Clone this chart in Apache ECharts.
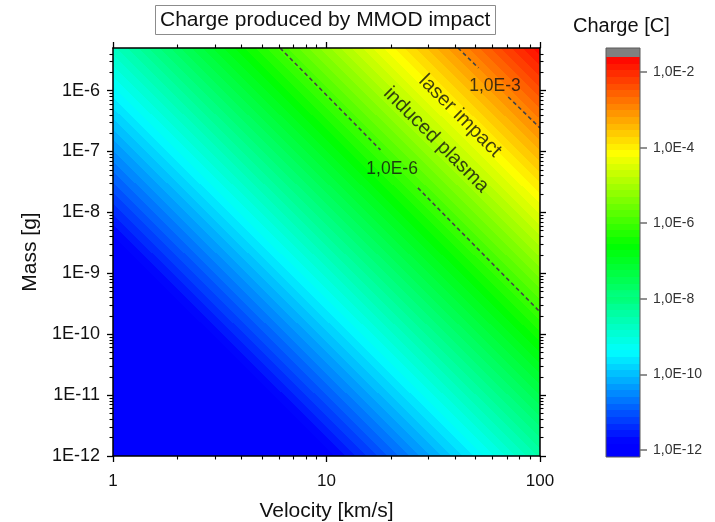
<!DOCTYPE html>
<html>
<head>
<meta charset="utf-8">
<script src="https://cdn.jsdelivr.net/npm/echarts@6/dist/echarts.min.js"></script>
<style>
html,body{margin:0;padding:0;background:#fff;}
#chart{width:715px;height:522px;}
</style>
</head>
<body>
<div id="chart"></div>
<script>
// ---------------- data ----------------
const velocityRange = [1, 100];                 // km/s (x)
const massRange = [1e-12, 5e-6];                // g (y)
const velocityTicks = [1, 10, 100];
const velocityTickLabels = ['1', '10', '100'];
const massTicks = [1e-12, 1e-11, 1e-10, 1e-9, 1e-8, 1e-7, 1e-6];
const massTickLabels = ['1E-12', '1E-11', '1E-10', '1E-9', '1E-8', '1E-7', '1E-6'];
const minorMultipliers = [2, 3, 4, 5, 6, 7, 8, 9];

const chargeTicks = [1e-12, 1e-10, 1e-8, 1e-6, 1e-4, 1e-2];
const chargeTickLabels = ['1,0E-12', '1,0E-10', '1,0E-8', '1,0E-6', '1,0E-4', '1,0E-2'];
const chargeScaleRange = [6.5e-13, 2.5e-2];     // span of the coloured part of the colour bar
const chargeOverflow = 4.35e-2;                 // top of the grey "above range" box
const bandCount = 60;                           // contour fill levels
const paletteCharge = [1.6e-12, 4.0e-10, 2.5e-7, 7.1e-5, 2.5e-2];
const paletteColors = ['#0000ff', '#00ffff', '#00ff00', '#ffff00', '#ff0000'];
const overflowColor = '#808080';

// contour lines [velocity, mass]; '-' marks the gap behind the label
const isoLevels = [1e-6, 1e-3];
const isoLabels = ['1,0E-6', '1,0E-3'];
const isoLine6 = [[6.06, 5e-6], [17.9, 1.06e-7], ['-', '-'], [26.8, 2.52e-8], [100, 2.32e-10]];
const isoLine3 = [[41.3, 5e-6], [51.5, 2.35e-6], ['-', '-'], [71.0, 7.85e-7], [100, 2.43e-7]];
const isoLabelPos = [[20.3, 5.2e-8], [61.5, 1.19e-6]];
const noteTexts = ['laser impact', 'induced plasma'];
const notePos = [[42.2, 3.83e-7], [32.6, 1.55e-7]];

// ---------------- helpers ----------------
const L = Math.log10;
const FONT = '"Liberation Sans", Arial, Helvetica, sans-serif';
const toXY = p => (p[0] === '-' ? ['-', '-'] : [L(p[0]), L(p[1])]);

function hexToRgb(h) { return [parseInt(h.slice(1, 3), 16), parseInt(h.slice(3, 5), 16), parseInt(h.slice(5, 7), 16)]; }
function paletteAt(l) {
  const ks = paletteCharge.map(L), cs = paletteColors.map(hexToRgb);
  if (l <= ks[0]) return cs[0];
  for (let i = 0; i < ks.length - 1; i++) {
    if (l <= ks[i + 1]) {
      const t = (l - ks[i]) / (ks[i + 1] - ks[i]);
      return cs[i].map((c, j) => Math.round(c + (cs[i + 1][j] - c) * t));
    }
  }
  return cs[cs.length - 1];
}
const cMin = L(chargeScaleRange[0]), cMax = L(chargeScaleRange[1]), cTop = L(chargeOverflow);
const bands = [];
(function () {
  const step = (cMax - cMin) / bandCount;
  for (let i = 0; i < bandCount; i++) {
    const a = cMin + i * step, b = a + step;
    const c = paletteAt(a + step / 2);
    bands.push({ a, b, color: 'rgb(' + c.join(',') + ')' });
  }
})();
function buildStops(lS, lE) {
  const clamp = v => Math.max(0, Math.min(1, v));
  const t = l => clamp((l - lS) / (lE - lS));
  const st = [{ offset: 0, color: bands[0].color }];
  bands.forEach(b => { st.push({ offset: t(b.a), color: b.color }); st.push({ offset: t(b.b), color: b.color }); });
  st.push({ offset: t(cMax), color: overflowColor });
  st.push({ offset: 1, color: overflowColor });
  return st;
}
function fmtFrom(ticks, labels) {
  return v => { for (let i = 0; i < ticks.length; i++) if (Math.abs(L(ticks[i]) - v) < 1e-6) return labels[i]; return ''; };
}
function minorsOf(majors, range) {
  const out = [];
  majors.forEach(m => minorMultipliers.forEach(k => { const v = m * k; if (v < range[1] * 0.999) out.push(L(v)); }));
  return out;
}
const xMinors = minorsOf([1, 10], velocityRange);
const yMinors = minorsOf(massTicks, massRange);

// ---------------- axes ----------------
const xMin = L(velocityRange[0]), xMax = L(velocityRange[1]);
const yMin = L(massRange[0]), yMax = L(massRange[1]);
const lineBlack = { color: '#000', width: 1.5 };
function axisBase(extra) {
  return Object.assign({
    type: 'value', gridIndex: 0, z: 10, silent: true,
    splitLine: { show: false },
    axisLine: { show: false, onZero: false, lineStyle: lineBlack },
    axisLabel: { show: false },
    axisTick: { show: false }
  }, extra);
}
const xAxes = [
  axisBase({
    min: xMin, max: xMax, position: 'bottom',
    axisLine: { show: true, onZero: false, lineStyle: lineBlack },
    axisTick: { show: true, customValues: velocityTicks.map(L), length: 6, lineStyle: { color: '#000', width: 1.3 } },
    axisLabel: { show: true, customValues: velocityTicks.map(L), formatter: fmtFrom(velocityTicks, velocityTickLabels),
      fontSize: 17, margin: 17, color: '#111', fontFamily: FONT },
    name: 'Velocity [km/s]', nameLocation: 'middle', nameGap: 45,
    nameTextStyle: { fontSize: 21, color: '#111', fontFamily: FONT }
  }),
  axisBase({ min: xMin, max: xMax, position: 'bottom',
    axisTick: { show: true, customValues: xMinors, length: 3.5, lineStyle: { color: '#000', width: 1.1 } } }),
  axisBase({ min: xMin, max: xMax, position: 'top',
    axisLine: { show: true, onZero: false, lineStyle: lineBlack },
    axisTick: { show: true, customValues: velocityTicks.map(L), length: 6, lineStyle: { color: '#000', width: 1.3 } } }),
  axisBase({ min: xMin, max: xMax, position: 'top',
    axisTick: { show: true, customValues: xMinors, length: 3.5, lineStyle: { color: '#000', width: 1.1 } } }),
  { type: 'value', gridIndex: 1, min: 0, max: 1, show: false }
];
const yAxes = [
  axisBase({
    min: yMin, max: yMax, position: 'left',
    axisLine: { show: true, onZero: false, lineStyle: lineBlack },
    axisTick: { show: true, customValues: massTicks.map(L), length: 6, lineStyle: { color: '#000', width: 1.3 } },
    axisLabel: { show: true, customValues: massTicks.map(L), formatter: fmtFrom(massTicks, massTickLabels),
      fontSize: 18, margin: 13, color: '#111', fontFamily: FONT },
    name: 'Mass [g]', nameLocation: 'middle', nameGap: 72, nameRotate: 90,
    nameTextStyle: { fontSize: 21, color: '#111', fontFamily: FONT }
  }),
  axisBase({ min: yMin, max: yMax, position: 'left',
    axisTick: { show: true, customValues: yMinors, length: 3.5, lineStyle: { color: '#000', width: 1.1 } } }),
  axisBase({ min: yMin, max: yMax, position: 'right',
    axisLine: { show: true, onZero: false, lineStyle: lineBlack },
    axisTick: { show: true, customValues: massTicks.map(L), length: 6, lineStyle: { color: '#000', width: 1.3 } } }),
  axisBase({ min: yMin, max: yMax, position: 'right',
    axisTick: { show: true, customValues: yMinors, length: 3.5, lineStyle: { color: '#000', width: 1.1 } } }),
  {
    type: 'value', gridIndex: 1, min: cMin, max: cTop, position: 'right', z: 10, silent: true,
    splitLine: { show: false },
    axisLine: { show: false, onZero: false },
    axisTick: { show: true, customValues: chargeTicks.map(L), length: 7, lineStyle: { color: '#6e6e6e', width: 1.5 } },
    axisLabel: { show: true, customValues: chargeTicks.map(L), formatter: fmtFrom(chargeTicks, chargeTickLabels),
      fontSize: 14, margin: 13, color: '#333', fontFamily: FONT }
  }
];

// ---------------- series ----------------
const fillSeries = {
  type: 'custom', xAxisIndex: 0, yAxisIndex: 0, z: 1, silent: true, clip: true,
  data: [[xMin, yMin, xMax, yMax]],
  renderItem: function (params, api) {
    const bl = api.coord([api.value(0), api.value(1)]);
    const tr = api.coord([api.value(2), api.value(3)]);
    const px = p => api.coord(toXY(p));
    const a1 = px(isoLine6[0]), b1 = px(isoLine6[isoLine6.length - 1]);
    const a2 = px(isoLine3[0]), b2 = px(isoLine3[isoLine3.length - 1]);
    const unit = (a, b) => { const dx = b[0] - a[0], dy = b[1] - a[1], n = Math.hypot(dx, dy); return [dx / n, dy / n]; };
    const u1 = unit(a1, b1), u2 = unit(a2, b2);
    let d = [u1[0] + u2[0], u1[1] + u2[1]];
    const dn = Math.hypot(d[0], d[1]); d = [d[0] / dn, d[1] / dn];
    let n = [d[1], -d[0]];
    const m1 = [(a1[0] + b1[0]) / 2, (a1[1] + b1[1]) / 2];
    const m2 = [(a2[0] + b2[0]) / 2, (a2[1] + b2[1]) / 2];
    let dist = (m2[0] - m1[0]) * n[0] + (m2[1] - m1[1]) * n[1];
    if (dist < 0) { n = [-n[0], -n[1]]; dist = -dist; }
    const l0 = L(isoLevels[0]);
    const pxPerDec = dist / (L(isoLevels[1]) - l0);
    const lS = -18, lE = -0.5;
    const S = [m1[0] + n[0] * (lS - l0) * pxPerDec, m1[1] + n[1] * (lS - l0) * pxPerDec];
    const E = [m1[0] + n[0] * (lE - l0) * pxPerDec, m1[1] + n[1] * (lE - l0) * pxPerDec];
    const grad = new echarts.graphic.LinearGradient(S[0], S[1], E[0], E[1], buildStops(lS, lE), true);
    return { type: 'rect', shape: { x: bl[0], y: tr[1], width: tr[0] - bl[0], height: bl[1] - tr[1] }, style: { fill: grad } };
  }
};
function isoSeries(pts) {
  return {
    type: 'line', xAxisIndex: 0, yAxisIndex: 0, z: 3, silent: true, symbol: 'none', connectNulls: false,
    data: pts.map(toXY),
    lineStyle: { color: '#454545', width: 1.6, type: [4, 3] }
  };
}
const isoLabelSeries = {
  type: 'scatter', xAxisIndex: 0, yAxisIndex: 0, z: 4, silent: true, symbolSize: 2,
  itemStyle: { color: 'rgba(0,0,0,0)' },
  data: isoLabelPos.map(toXY),
  label: { show: true, position: 'inside', formatter: p => isoLabels[p.dataIndex],
    fontSize: 17.5, color: '#111', fontFamily: FONT }
};
const noteSeries = {
  type: 'scatter', xAxisIndex: 0, yAxisIndex: 0, z: 4, silent: true, symbolSize: 2,
  itemStyle: { color: 'rgba(0,0,0,0)' },
  data: notePos.map(toXY),
  label: { show: true, position: 'inside', rotate: -45, formatter: p => noteTexts[p.dataIndex],
    fontSize: 20, color: '#111', fontFamily: FONT }
};
const colorbarSeries = {
  type: 'custom', xAxisIndex: 4, yAxisIndex: 4, z: 2, silent: true, clip: false,
  data: [[0, cMin, 1, cMax, cTop]],
  renderItem: function (params, api) {
    const p0 = api.coord([api.value(0), api.value(1)]);
    const p1 = api.coord([api.value(2), api.value(3)]);
    const p2 = api.coord([api.value(2), api.value(4)]);
    const stops = bands.flatMap(b => [
      { offset: (b.a - cMin) / (cMax - cMin), color: b.color },
      { offset: (b.b - cMin) / (cMax - cMin), color: b.color }
    ]);
    const grad = new echarts.graphic.LinearGradient(0, 1, 0, 0, stops);
    return {
      type: 'group',
      children: [
        { type: 'rect', shape: { x: p0[0], y: p1[1], width: p1[0] - p0[0], height: p0[1] - p1[1] }, style: { fill: grad } },
        { type: 'rect', shape: { x: p0[0], y: p2[1], width: p1[0] - p0[0], height: p1[1] - p2[1] }, style: { fill: overflowColor } },
        { type: 'rect', shape: { x: p0[0], y: p2[1], width: p1[0] - p0[0], height: p0[1] - p2[1] },
          style: { fill: 'none', stroke: '#5a5a5a', lineWidth: 1 } }
      ]
    };
  }
};

// ---------------- chart ----------------
const chart = echarts.init(document.getElementById('chart'), null, { renderer: 'canvas' });
chart.setOption({
  animation: false,
  backgroundColor: '#ffffff',
  title: [
    { text: 'Charge produced by MMOD impact', left: 155, top: 5, padding: [5, 5, 4, 5],
      borderColor: '#8c8c8c', borderWidth: 1,
      textStyle: { fontSize: 21, fontWeight: 'normal', color: '#111', fontFamily: FONT } },
    { text: 'Charge [C]', left: 573, top: 16, padding: 0,
      textStyle: { fontSize: 20, fontWeight: 'normal', color: '#111', fontFamily: FONT } }
  ],
  grid: [
    { left: 113, right: 175, top: 48, bottom: 66, containLabel: false, outerBoundsMode: 'none' },
    { left: 606, width: 34, top: 48, bottom: 65, containLabel: false, outerBoundsMode: 'none' }
  ],
  xAxis: xAxes,
  yAxis: yAxes,
  series: [fillSeries, isoSeries(isoLine6), isoSeries(isoLine3), isoLabelSeries, noteSeries, colorbarSeries]
});
</script>
</body>
</html>
